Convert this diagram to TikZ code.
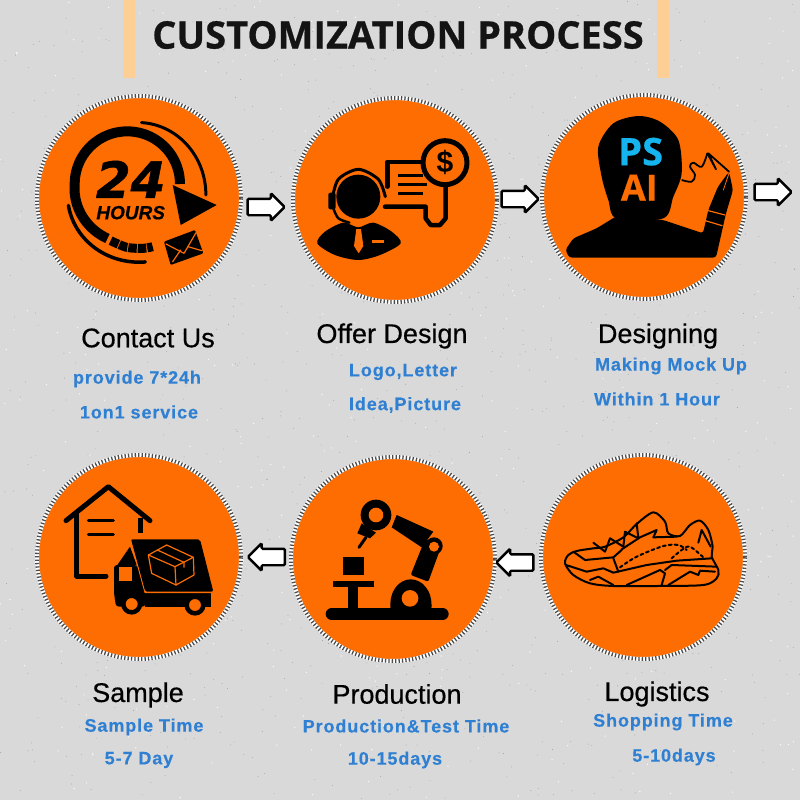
\documentclass[tikz,border=0pt]{standalone}
\usepackage{fontspec}
\setmainfont{Liberation Sans}
\newfontfamily\titlefont[BoldFeatures={FakeBold=0.6}]{Open Sans}
\newfontfamily\stepfont[FakeBold=0.5]{Liberation Sans}
\newfontfamily\bluefont[LetterSpace=5,BoldFeatures={LetterSpace=5,FakeBold=0.3}]{Liberation Sans}
\newfontfamily\iconfont[ItalicFeatures={FakeBold=1},BoldItalicFeatures={FakeBold=1}]{DejaVu Sans}
\usetikzlibrary{shapes.arrows}
\definecolor{paper}{HTML}{D9D9DA}
\definecolor{peach}{HTML}{FDCF94}
\definecolor{disc}{HTML}{FD6D02}
\definecolor{labelblue}{HTML}{2F80D2}
\definecolor{pscyan}{HTML}{16B4EE}
\tikzset{
  discbox/.style={circle, draw=white, line width=4pt, fill=disc, minimum size=204pt, inner sep=0pt,
    postaction={draw=black!70, line width=4pt, dash pattern=on 1.3pt off 2.1pt}},
  rightarrow/.style={single arrow, draw=black, fill=white, line width=2.4pt, minimum height=37pt,
    text height=14pt, text depth=0pt, text width=0pt, single arrow head extend=5.5pt, single arrow head indent=0pt,
    inner sep=0pt, rounded corners=1.2pt},
  leftarrow/.style={rightarrow, shape border rotate=180},
  steptitle/.style={font=\stepfont\fontsize{27}{27}\selectfont, inner sep=0pt},
  stepnote/.style={font=\bluefont\bfseries\fontsize{18}{18}\selectfont, text=labelblue, inner sep=0pt},
  iconline/.style={draw=black, line width=#1, line cap=round, line join=round},
  cutline/.style={draw=disc, line width=#1, line cap=round, line join=round}
}
\begin{document}
\begin{tikzpicture}[x=1pt,y=-1pt]
        % Paper
        \fill[paper] (0,0) rectangle (800,800);
        \useasboundingbox (0,0) rectangle (800,800);
        \pgfmathsetseed{24}
        \foreach \i in {1,...,900} {
            \fill[black!38] (800*rnd,800*rnd) circle (0.45);
        }
        \foreach \i in {1,...,400} {
            \fill[white!90!paper] (800*rnd,800*rnd) circle (0.7);
        }

        % Title
        \fill[peach] (123,0) rectangle (135,78);
        \fill[peach] (657,0) rectangle (669,78);
        \node[font=\titlefont\bfseries\fontsize{38}{38}\selectfont, text=black!92, inner sep=0pt] (title) at (398,35) {CUSTOMIZATION PROCESS};

        % Discs
        \node[discbox] (contact) at (139,198) {};
        \node[discbox] (offer) at (395,200) {};
        \node[discbox] (designing) at (644,197) {};
        \node[discbox] (sample) at (139,557) {};
        \node[discbox] (production) at (393,559) {};
        \node[discbox] (logistics) at (643,557) {};

        % Arrows
        \node[rightarrow] (arrowa) at (262,207) {};
        \node[rightarrow] (arrowb) at (516,199) {};
        \node[rightarrow] (arrowc) at (769,192) {};
        \node[leftarrow] (arrowd) at (270.5,557) {};
        \node[leftarrow] (arrowe) at (519,562.5) {};

        % Labels
        \node[steptitle] (contacttitle) at (148,338) {Contact Us};
        \node[stepnote] (contactnotea) at (137,379) {provide 7*24h};
        \node[stepnote] (contactnoteb) at (139,412) {1on1 service};
        \node[steptitle] (offertitle) at (392,336) {Offer Design};
        \node[stepnote] (offernotea) at (403,372) {Logo,Letter};
        \node[stepnote] (offernoteb) at (405,405) {Idea,Picture};
        \node[steptitle] (designingtitle) at (658,336) {Designing};
        \node[stepnote] (designingnotea) at (671,366) {Making Mock Up};
        \node[stepnote] (designingnoteb) at (657,399) {Within 1 Hour};
        \node[steptitle] (sampletitle) at (138,695) {Sample};
        \node[stepnote] (samplenotea) at (144,727) {Sample Time};
        \node[stepnote] (samplenoteb) at (139,760) {5-7 Day};
        \node[steptitle] (productiontitle) at (397,694) {Production};
        \node[stepnote] (productionnotea) at (406,726) {Production\&Test Time};
        \node[stepnote] (productionnoteb) at (395,760) {10-15days};
        \node[steptitle] (logisticstitle) at (657,694) {Logistics};
        \node[stepnote] (logisticsnotea) at (663,722) {Shopping Time};
        \node[stepnote] (logisticsnoteb) at (674,757) {5-10days};

        % 24 hours icon
        \begin{scope}[shift={(20,90)},scale=1/3]
            \draw[iconline=10pt, line cap=butt] plot[smooth, domain=0:-250, samples=40] ({322+(158+16*max(0,(-180-\x)/70))*cos(\x)},{282+(158+16*max(0,(-180-\x)/70))*sin(\x)});
            \draw[iconline=9pt, line cap=butt, dash pattern=on 8.5pt off 1pt] plot[smooth] coordinates {(272,452) (320,472) (370,475) (398,470)};
            \draw[iconline=3pt] plot[smooth, domain=-77:8, samples=20] ({322+(189+49*(\x+77)/85)*cos(\x)},{282+(189+49*(\x+77)/85)*sin(\x)});
            \draw[iconline=3.5pt] plot[smooth, domain=160:77, samples=20] ({322+(188+52*(160-\x)/83)*cos(\x)},{282+(188+52*(160-\x)/83)*sin(\x)});
            \fill[black] (458,285) -- (590,345) -- (482,405) -- cycle;
            \fill[black, rounded corners=1pt] (432,455) -- (525,420) -- (550,490) -- (452,525) -- cycle;
            \draw[cutline=1.2pt] (438,462) -- (492,490) -- (528,428);
            \draw[cutline=1.2pt] (458,515) -- (482,480);
            \draw[cutline=1.2pt] (546,482) -- (504,470);
            \node[font=\iconfont\bfseries\itshape\fontsize{50}{50}\selectfont, inner sep=0pt] (twentyfour) at (332,268) {24};
            \node[font=\stepfont\bfseries\itshape\fontsize{19}{19}\selectfont, inner sep=0pt] (hours) at (332,368) {HOURS};
        \end{scope}

        % Agent icon
        \begin{scope}[shift={(280,90)},scale=1/3]
            \fill[black] (235,320) circle (66);
            \draw[iconline=3pt] plot[smooth] coordinates {(156,330) (175,268) (235,238) (295,268) (316,320)};
            \fill[black, rounded corners=2pt] (145,308) rectangle (167,358);
            \draw[iconline=2.5pt] plot[smooth] coordinates {(160,355) (175,385) (208,398)};
            \fill[black] plot[smooth cycle] coordinates {(112,460) (135,425) (190,398) (235,412) (280,398) (335,425) (362,460) (300,495) (235,510) (165,495)};
            \fill[disc] (229,417) -- (243,417) -- (250,468) -- (236,490) -- (222,468) -- cycle;
            \fill[disc] (276,450) rectangle (312,460);
            \draw[iconline=4.5pt] (322,290) -- (322,216) -- (440,216);
            \draw[iconline=4.5pt] (497,290) -- (497,385) -- (480,405) -- (452,405) -- (437,385) -- (437,350) -- (315,350);
            \draw[iconline=3pt, line cap=butt] (355,255) -- (430,255);
            \draw[iconline=3pt, line cap=butt] (355,282) -- (440,282);
            \draw[iconline=3pt, line cap=butt] (355,311) -- (430,311);
            \draw[iconline=5pt, fill=disc] (495,218) circle (66);
            \node[font=\bfseries\fontsize{30}{30}\selectfont, inner sep=0pt] (dollar) at (495,218) {\$};
        \end{scope}

        % Designer icon
        \begin{scope}[shift={(280,90)},scale=1/3]
            \fill[black] plot[smooth cycle] coordinates {(1075,78) (1000,100) (955,170) (965,260) (985,330) (1010,385) (1150,385) (1180,320) (1205,250) (1195,150) (1140,95)};
            \fill[black, rounded corners=3pt] (1015,375) -- (950,415) -- (880,445) -- (856,480) -- (868,503) -- (1308,503) -- (1338,370) -- (1359,300) -- (1347,245) -- (1314,290) -- (1285,360) -- (1269,430) -- (1149,390) -- cycle;
            \draw[iconline=1.8pt, line cap=butt] plot[smooth, tension=0.6] coordinates {(1205,270) (1235,275) (1245,255) (1230,230) (1240,218) (1265,230) (1282,190)};
            \draw[iconline=1.8pt] (1282,190) -- (1308,238) -- (1285,190) -- (1347,245);
            \draw[cutline=0.8pt] (1347,250) -- (1330,300);
            \draw[cutline=1.2pt] (1285,362) -- (1335,375);
            \draw[cutline=1.2pt] (1276,392) -- (1326,407);
            \node[font=\titlefont\bfseries\fontsize{38}{38}\selectfont, text=pscyan, inner sep=0pt] (ps) at (1082,185) {PS};
            \node[font=\titlefont\bfseries\fontsize{36}{36}\selectfont, text=disc, inner sep=0pt] (ai) at (1078,293) {AI};
        \end{scope}

        % Delivery icon
        \begin{scope}[shift={(20,450)},scale=1/3]
            \draw[iconline=5pt] (138,212) -- (265,110) -- (390,212);
            \draw[iconline=5pt] (170,190) -- (170,378) -- (258,378);
            \draw[iconline=5pt, line cap=butt] (362,205) -- (362,250);
            \draw[iconline=3pt] (205,210) -- (280,210);
            \draw[iconline=3pt] (205,252) -- (280,252);
            \fill[black, rounded corners=2pt] (332,268) -- (540,268) -- (580,425) -- (375,425) -- cycle;
            \fill[black] (292,345) -- (330,290) -- (350,345) -- cycle;
            \fill[black, rounded corners=3pt] (282,345) -- (352,345) -- (376,430) -- (376,470) -- (288,470) -- (282,430) -- cycle;
            \fill[disc] (296,352) rectangle (336,394);
            \fill[black] (376,430) rectangle (572,472);
            \draw[cutline=0.9pt] (332,270) -- (375,428) -- (578,428);
            \draw[cutline=1.2pt] (385,315) -- (440,285) -- (520,322) -- (465,350) -- cycle;
            \draw[cutline=1.2pt] (385,315) -- (395,370) -- (468,405) -- (465,350);
            \draw[cutline=1.2pt] (468,405) -- (522,375) -- (520,322);
            \draw[cutline=1.2pt] (412,300) -- (492,337) -- (492,352);
            \draw[iconline=4.5pt, fill=disc] (335,462) circle (25);
            \draw[iconline=4.5pt, fill=disc] (525,465) circle (25);
        \end{scope}

        % Robot icon
        \begin{scope}[shift={(20,450)},scale=1/3]
            \draw[iconline=12pt] (935,492) -- (1268,492);
            \fill[black] (938,392) rectangle (1062,412);
            \fill[black] (985,412) rectangle (1015,480);
            \fill[black] (970,322) rectangle (1032,375);
            \fill[black] (1112,480) .. controls (1105,420) and (1140,388) .. (1172,388) .. controls (1205,388) and (1240,420) .. (1234,480) -- cycle;
            \fill[disc] (1170,445) circle (25);
            \fill[black, rounded corners=2pt] (1215,268) -- (1265,285) -- (1225,395) -- (1172,375) -- cycle;
            \fill[black] (1242,288) circle (26);
            \fill[disc] (1242,290) circle (15);
            \fill[black] (1130,195) -- (1240,245) -- (1205,292) -- (1115,232) -- cycle;
            \fill[black] (1068,195) circle (46);
            \fill[disc] (1068,195) circle (22);
            \fill[black] (1025,220) -- (1068,248) -- (1050,265) -- (1012,250) -- cycle;
            \draw[iconline=3pt] (1038,262) -- (1017,292);
        \end{scope}

        % Shoe icon
        \begin{scope}[shift={(490,450)},scale=1/3]
            \draw[iconline=2pt] plot[smooth cycle] coordinates {(225,340) (235,315) (260,303) (310,295) (345,290) (400,262) (440,222) (490,187) (525,215) (535,250) (570,258) (600,225) (630,212) (655,240) (668,290) (665,320) (685,360) (680,385) (640,405) (500,408) (370,408) (300,400) (250,375)};
            \draw[iconline=2pt] (228,345) -- (290,365) -- (340,355) -- (370,368) -- (470,345) -- (560,332) -- (665,325);
            \draw[iconline=2pt] (250,305) -- (285,330) -- (370,322) -- (395,300);
            \draw[iconline=2pt] (370,325) -- (385,365);
            \draw[iconline=2pt] (310,278) -- (345,305) -- (360,265) -- (400,290) -- (405,245) -- (445,265) -- (440,220);
            \draw[iconline=2pt] (395,298) -- (450,262) -- (500,240) -- (490,262) -- (560,260);
            \draw[iconline=2pt] (625,278) -- (635,240) -- (662,290);
            \draw[iconline=2pt, dashed] plot[smooth] coordinates {(390,352) (440,320) (520,288) (565,285) (590,300)};
            \draw[iconline=2pt, dashed] plot[smooth] coordinates {(545,325) (575,300) (600,290) (640,322)};
            \draw[iconline=2pt] (300,390) -- (325,380) -- (370,405);
            \draw[iconline=2pt] (410,405) -- (510,360) -- (525,370) -- (515,405);
            \draw[iconline=2pt] (535,405) -- (600,365) -- (625,375) -- (630,362) -- (675,365);
            \draw[iconline=2pt] (525,360) -- (545,345) -- (680,350);
        \end{scope}
    \end{tikzpicture}
\end{document}
